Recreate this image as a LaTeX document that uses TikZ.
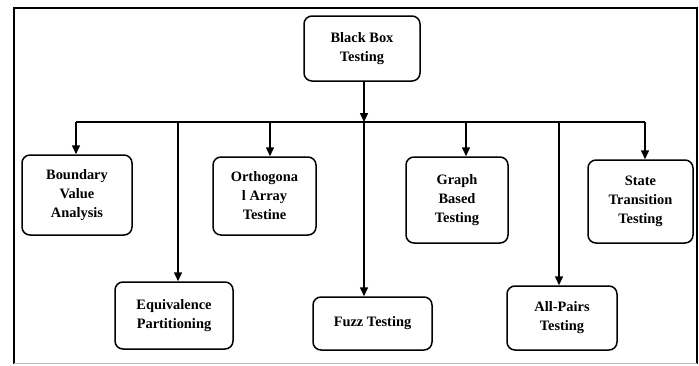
\documentclass[tikz,border=0pt]{standalone}
\usepackage{fontspec}
\setmainfont{Liberation Serif}
\usetikzlibrary{arrows.meta}
\begin{document}
\begin{tikzpicture}[x=1pt,y=-1pt,
  tbox/.style={draw=black, line width=1.5pt, rounded corners=8pt, align=center,
    font=\fontsize{14.4}{19}\selectfont\bfseries, inner sep=0pt},
  conn/.style={line width=1.5pt},
  arr/.style={line width=1.5pt, -{Triangle[width=8pt,length=9pt]}}]
\useasboundingbox (0,0) rectangle (699,365);
% frame
\draw[line width=2.7pt] (14,364) -- (14,8) -- (697,8) -- (697,364);
\draw[line width=0.8pt, black!25] (14,363.5) -- (697,363.5);
% nodes
\node[tbox, minimum width=116pt, minimum height=65pt] (bb) at (362,48.5) {Black Box\\Testing};
\node[tbox, minimum width=110pt, minimum height=80pt] (bva) at (77,195) {Boundary\\Value\\Analysis};
\node[tbox, minimum width=118pt, minimum height=67pt] (ep) at (174,315.5) {Equivalence\\Partitioning};
\node[tbox, minimum width=103pt, minimum height=78pt] (oat) at (264.5,196) {Orthogona\\l Array\\Testine};
\node[tbox, minimum width=119pt, minimum height=53pt] (fuzz) at (372.5,323.5) {Fuzz Testing};
\node[tbox, minimum width=102pt, minimum height=86pt] (gbt) at (457,200) {Graph\\Based\\Testing};
\node[tbox, minimum width=110pt, minimum height=64pt] (apt) at (562,318) {All-Pairs\\Testing};
\node[tbox, minimum width=105pt, minimum height=83pt] (stt) at (640.5,201.5) {State\\Transition\\Testing};
% junction coordinates
\coordinate (j) at (364,122);
\coordinate (c1) at (76,122);
\coordinate (c2) at (178,122);
\coordinate (c3) at (270,122);
\coordinate (c5) at (466,122);
\coordinate (c6) at (559,122);
\coordinate (c7) at (645,122);
% connectors
\draw[arr] (bb.south -| j) -- (j);
\draw[conn] (c1) -- (c7);
\draw[arr] (c1) -- (c1 |- bva.north);
\draw[arr] (c2) -- (c2 |- ep.north);
\draw[arr] (c3) -- (c3 |- oat.north);
\draw[arr] (j) -- (j |- fuzz.north);
\draw[arr] (c5) -- (c5 |- gbt.north);
\draw[arr] (c6) -- (c6 |- apt.north);
\draw[arr] (c7) -- (c7 |- stt.north);
\end{tikzpicture}
\end{document}
